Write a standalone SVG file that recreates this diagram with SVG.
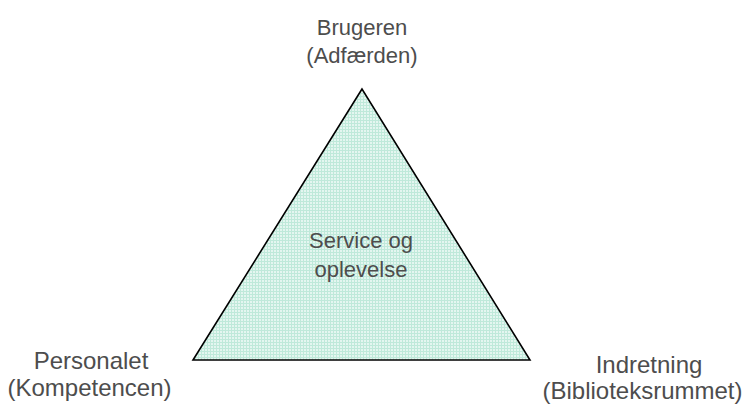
<svg xmlns="http://www.w3.org/2000/svg" width="745" height="410" viewBox="0 0 745 410">
  <defs>
    <pattern id="grid" width="3" height="3" patternUnits="userSpaceOnUse">
      <rect width="3" height="3" fill="#e4f6f0"/>
      <rect width="3" height="1" fill="#bfe9da"/>
      <rect width="1" height="3" fill="#bfe9da"/>
    </pattern>
  </defs>
  <style>
    .lbl { font-family: "Liberation Sans", Arial, sans-serif; font-size: 22px; fill: #4d4d4d; text-anchor: middle; }
    .big { font-size: 24px; }
  </style>
  <rect width="745" height="410" fill="#ffffff"/>
  <g id="triangle">
    <polygon points="362,89 193,360 530,360" fill="url(#grid)" stroke="#000000" stroke-width="1.6" stroke-linejoin="miter"/>
    <text class="lbl" x="361" y="248">Service og</text>
    <text class="lbl" x="361" y="277">oplevelse</text>
  </g>
  <g id="brugeren">
    <text class="lbl" x="362" y="35">Brugeren</text>
    <text class="lbl" x="362" y="63">(Adfærden)</text>
  </g>
  <g id="personalet">
    <text class="lbl big" x="91" y="369">Personalet</text>
    <text class="lbl big" x="89.5" y="396">(Kompetencen)</text>
  </g>
  <g id="indretning">
    <text class="lbl big" x="649" y="373">Indretning</text>
    <text class="lbl big" x="642.5" y="399">(Biblioteksrummet)</text>
  </g>
  <g id="connectors"></g>
</svg>
